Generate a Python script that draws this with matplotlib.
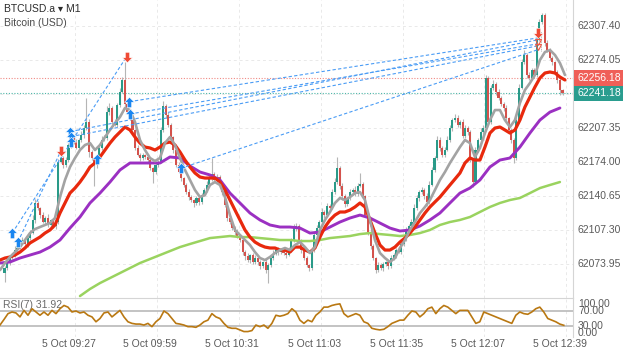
import numpy as np
import matplotlib
matplotlib.use("Agg")
import matplotlib.pyplot as plt
from matplotlib.path import Path

plt.rcParams['font.family'] = ['Liberation Sans', 'DejaVu Sans']

# M1 candles, 09:02 .. 12:40 (open = previous close)
first_open = 62066.0
closes = [
    62070.4, 62076.3, 62080.2, 62083.1, 62088.0, 62091.9, 62094.9, 62097.8, 62093.9, 62099.8,
    62104.7, 62117.4, 62134.0, 62129.1, 62122.2, 62115.4, 62119.3, 62112.5, 62117.4, 62111.5,
    62115.4, 62174.1, 62178.0, 62171.2, 62176.0, 62190.7, 62198.5, 62193.7, 62187.8, 62195.6,
    62200.5, 62207.3, 62213.2, 62183.9, 62178.0, 62171.2, 62176.0, 62187.8, 62195.6, 62197.6,
    62223.0, 62226.9, 62213.2, 62210.3, 62229.8, 62242.5, 62254.3, 62230.8, 62223.0, 62217.1,
    62205.4, 62187.8, 62180.9, 62178.0, 62180.9, 62179.0, 62176.0, 62168.2, 62164.3, 62171.2,
    62174.1, 62205.4, 62228.9, 62220.1, 62210.3, 62198.5, 62185.8, 62171.2, 62164.3, 62158.4,
    62151.6, 62144.8, 62139.9, 62136.9, 62134.0, 62138.9, 62135.0, 62141.8, 62146.7, 62151.6,
    62158.4, 62162.4, 62156.5, 62159.4, 62154.5, 62144.8, 62132.0, 62119.3, 62115.4, 62109.5,
    62105.6, 62101.7, 62097.8, 62086.1, 62082.2, 62078.3, 62083.1, 62076.3, 62080.2, 62076.3,
    62072.4, 62076.3, 62068.5, 62073.4, 62080.2, 62084.1, 62088.0, 62086.1, 62088.0, 62085.1,
    62083.1, 62088.0, 62097.8, 62109.5, 62111.5, 62097.8, 62088.0, 62080.2, 62073.4, 62070.4,
    62088.0, 62102.7, 62109.5, 62115.4, 62125.2, 62122.2, 62131.0, 62129.1, 62144.8, 62154.5,
    62168.2, 62150.6, 62140.9, 62133.0, 62138.9, 62144.8, 62146.7, 62142.8, 62150.6, 62152.6,
    62140.9, 62122.2, 62105.6, 62091.9, 62080.2, 62068.5, 62073.4, 62070.4, 62074.3, 62076.3,
    62072.4, 62080.2, 62083.1, 62088.0, 62086.1, 62093.9, 62099.8, 62107.6, 62111.5, 62115.4,
    62129.1, 62138.9, 62144.8, 62146.7, 62140.9, 62135.0, 62151.6, 62166.3, 62178.0, 62195.6,
    62187.8, 62180.9, 62185.8, 62195.6, 62207.3, 62215.2, 62217.1, 62210.3, 62213.2, 62199.5,
    62207.3, 62203.4, 62176.0, 62154.5, 62185.8, 62195.6, 62203.4, 62207.3, 62256.2, 62213.2,
    62246.5, 62250.4, 62242.5, 62236.7, 62230.8, 62226.9, 62217.1, 62205.4, 62195.6, 62178.0,
    62215.2, 62246.5, 62271.9, 62278.7, 62259.2, 62256.2, 62264.1, 62259.2, 62293.4, 62311.0,
    62317.9, 62290.5, 62283.6, 62275.8, 62271.9, 62262.1, 62254.3, 62244.5, 62241.18,
]
wick_up = [
    2, 3, 1, 2, 4, 2, 1, 3, 2, 2, 3, 5, 4, 2, 1, 3, 2, 4, 1, 2,
    2, 3, 4, 2, 3, 2, 5, 2, 3, 2, 4, 3, 23, 3, 2, 1, 3, 2, 4, 3,
    6, 5, 2, 3, 2, 4, 3, 18, 2, 3, 2, 1, 3, 2, 2, 1, 3, 2, 1, 2,
    2, 3, 5, 2, 3, 2, 1, 2, 3, 2, 1, 2, 3, 2, 1, 2, 3, 2, 2, 4,
    3, 16, 2, 3, 2, 1, 2, 3, 2, 1, 2, 3, 1, 2, 2, 3, 1, 2, 3, 2,
    2, 1, 3, 2, 2, 4, 2, 3, 1, 2, 2, 3, 2, 4, 3, 2, 1, 2, 2, 1,
    3, 2, 3, 2, 4, 2, 3, 2, 3, 4, 11, 2, 3, 2, 1, 3, 2, 4, 3, 11,
    2, 1, 2, 3, 2, 1, 3, 2, 2, 1, 2, 3, 2, 2, 3, 2, 1, 3, 2, 3,
    4, 3, 2, 3, 2, 3, 4, 3, 2, 4, 3, 2, 3, 4, 3, 2, 4, 3, 2, 3,
    3, 2, 2, 1, 3, 2, 4, 3, 3, 2, 3, 4, 2, 3, 2, 2, 3, 1, 2, 2,
    3, 4, 3, 5, 2, 3, 2, 2, 3, 3, 2, 2, 3, 2, 2, 1, 2, 3, 1,
]
wick_dn = [
    9, 2, 3, 1, 2, 2, 3, 1, 2, 3, 2, 1, 3, 2, 3, 1, 2, 2, 3, 2,
    3, 2, 1, 3, 2, 2, 3, 2, 1, 2, 2, 3, 2, 5, 2, 21, 3, 2, 2, 1,
    2, 3, 2, 1, 2, 2, 1, 3, 2, 2, 3, 2, 1, 3, 2, 2, 3, 2, 11, 2,
    2, 1, 2, 3, 2, 2, 3, 2, 1, 3, 2, 2, 3, 2, 4, 2, 3, 2, 1, 2,
    2, 3, 2, 1, 2, 3, 2, 3, 2, 2, 3, 2, 2, 3, 4, 2, 3, 2, 2, 3,
    3, 2, 3, 13, 2, 2, 1, 3, 2, 2, 3, 1, 2, 2, 3, 2, 3, 2, 2, 3,
    2, 2, 3, 1, 2, 3, 2, 2, 1, 2, 2, 3, 4, 3, 2, 2, 3, 2, 2, 1,
    2, 2, 3, 3, 2, 3, 2, 2, 3, 2, 3, 2, 2, 3, 1, 2, 2, 3, 2, 2,
    2, 2, 3, 2, 3, 4, 2, 1, 2, 2, 3, 2, 2, 1, 2, 3, 2, 2, 3, 2,
    2, 3, 2, 5, 2, 2, 3, 2, 2, 3, 2, 2, 3, 2, 2, 3, 2, 2, 3, 5,
    2, 2, 1, 2, 3, 2, 2, 3, 2, 1, 2, 3, 2, 2, 3, 2, 3, 5, 2,
]

# moving averages (evenly spaced samples)
ma_fast = [
    62068.4, 62075.3, 62081.2, 62086.0, 62090.9, 62097.8, 62104.6, 62108.5, 62110.5, 62112.5,
    62114.4, 62119.3, 62139.8, 62156.5, 62169.2, 62178.0, 62185.8, 62190.7, 62192.6, 62185.8,
    62190.7, 62198.5, 62205.4, 62212.2, 62218.1, 62226.9, 62224.9, 62213.2, 62195.6, 62185.8,
    62178.0, 62175.0, 62178.0, 62192.6, 62198.5, 62190.7, 62178.0, 62166.3, 62156.5, 62146.7,
    62139.8, 62141.8, 62151.6, 62154.5, 62151.6, 62139.8, 62122.2, 62107.6, 62102.7, 62097.8,
    62092.9, 62086.0, 62080.2, 62078.2, 62081.2, 62085.1, 62088.0, 62090.0, 62088.0, 62092.9,
    62095.8, 62090.9, 62085.1, 62090.9, 62107.6, 62117.4, 62125.2, 62134.0, 62138.9, 62136.9,
    62139.8, 62143.7, 62144.7, 62136.9, 62117.4, 62097.8, 62085.1, 62080.2, 62076.3, 62080.2,
    62090.0, 62097.8, 62107.6, 62115.4, 62124.2, 62130.1, 62136.9, 62146.7, 62156.5, 62164.3,
    62173.1, 62180.9, 62188.7, 62195.6, 62192.6, 62179.0, 62187.8, 62202.4, 62215.1, 62224.9,
    62224.9, 62215.1, 62208.3, 62215.1, 62231.8, 62244.5, 62251.3, 62259.2, 62273.8, 62281.6,
    62283.6, 62278.7, 62270.9, 62259.2,
]
ma_mid = [
    62078.2, 62080.2, 62081.2, 62083.1, 62086.0, 62090.0, 62094.9, 62097.8, 62100.7, 62104.6,
    62107.6, 62112.5, 62124.2, 62134.0, 62143.7, 62148.6, 62154.5, 62161.4, 62169.2, 62173.1,
    62179.0, 62185.8, 62192.6, 62198.5, 62203.4, 62208.3, 62205.4, 62198.5, 62192.6, 62188.7,
    62187.8, 62185.8, 62188.7, 62192.6, 62193.6, 62190.7, 62183.9, 62176.0, 62169.2, 62163.3,
    62159.4, 62158.4, 62158.4, 62158.4, 62154.5, 62146.7, 62136.9, 62127.1, 62117.4, 62107.6,
    62100.7, 62095.8, 62092.9, 62090.9, 62090.0, 62090.0, 62088.0, 62088.0, 62086.0, 62090.9,
    62090.9, 62088.0, 62086.0, 62090.0, 62100.7, 62110.5, 62117.4, 62122.2, 62125.2, 62125.2,
    62127.1, 62130.1, 62134.0, 62130.1, 62117.4, 62104.6, 62092.9, 62088.0, 62088.0, 62090.9,
    62095.8, 62099.7, 62104.6, 62110.5, 62117.4, 62124.2, 62130.1, 62135.0, 62139.8, 62145.7,
    62151.6, 62157.4, 62163.3, 62173.1, 62178.0, 62176.0, 62176.0, 62188.7, 62202.4, 62207.3,
    62208.3, 62205.4, 62202.4, 62205.4, 62215.1, 62227.9, 62237.6, 62247.4, 62256.2, 62261.1,
    62262.1, 62261.1, 62257.2, 62254.3,
]
ma_slow = [
    62075.3, 62076.3, 62080.2, 62083.1, 62086.0, 62090.9, 62097.8, 62109.5, 62120.3, 62134.0,
    62143.7, 62154.5, 62166.3, 62173.1, 62173.1, 62173.1, 62173.1, 62179.0, 62178.0, 62170.2,
    62164.3, 62161.4, 62156.5, 62143.7, 62134.0, 62124.2, 62117.4, 62112.5, 62110.5, 62110.5,
    62109.5, 62104.6, 62105.6, 62110.5, 62115.4, 62119.3, 62122.2, 62119.3, 62114.4, 62109.5,
    62106.6, 62107.6, 62111.5, 62117.4, 62124.2, 62134.0, 62143.7, 62148.6, 62156.5, 62169.2,
    62176.0, 62178.0, 62188.7, 62202.4, 62215.1, 62222.9, 62226.9,
]
ma_long = [
    62043.0, 62049.9, 62055.7, 62060.6, 62065.5, 62070.4, 62075.3, 62079.2, 62083.1, 62087.0,
    62090.9, 62093.9, 62096.8, 62099.7, 62100.7, 62101.7, 62100.7, 62100.7, 62099.7, 62098.8,
    62097.8, 62097.8, 62096.8, 62096.8, 62097.8, 62099.7, 62100.7, 62101.7, 62103.6, 62104.6,
    62103.6, 62102.7, 62101.7, 62102.7, 62104.6, 62107.6, 62112.5, 62115.4, 62117.4, 62120.3,
    62125.2, 62130.1, 62134.0, 62136.9, 62138.9, 62143.7, 62148.6, 62151.6, 62154.5,
]

rsi_vals = [
    32.6, 47.4, 63.0, 67.4, 64.8, 54.3, 71.7, 58.7, 76.1, 67.4,
    58.7, 67.4, 58.7, 71.7, 63.0, 76.1, 84.8, 80.4, 67.4, 70.0,
    64.8, 67.4, 58.7, 54.3, 41.3, 50.0, 64.8, 67.4, 54.3, 63.0,
    71.7, 54.3, 41.3, 37.0, 35.2, 35.2, 32.6, 37.0, 28.3, 41.3,
    50.0, 70.0, 63.0, 50.0, 37.0, 35.2, 32.6, 28.3, 28.3, 26.5,
    32.6, 41.3, 45.7, 63.0, 54.3, 50.0, 37.0, 26.5, 23.9, 23.9,
    19.6, 15.2, 15.2, 17.8, 32.6, 28.3, 32.6, 23.9, 37.0, 58.7,
    56.1, 58.7, 63.0, 76.1, 67.4, 45.7, 37.0, 45.7, 41.3, 58.7,
    67.4, 80.4, 80.4, 84.8, 87.4, 89.1, 63.0, 54.3, 58.7, 63.0,
    58.7, 41.3, 37.0, 23.9, 21.3, 19.6, 21.3, 28.3, 37.0, 41.3,
    45.7, 45.7, 58.7, 70.0, 67.4, 54.3, 63.0, 76.1, 80.4, 63.0,
    76.1, 84.8, 80.4, 71.7, 63.0, 71.7, 71.7, 71.7, 54.3, 37.0,
    41.3, 67.4, 63.0, 58.7, 54.3, 50.0, 45.7, 41.3, 37.0, 58.7,
    67.4, 63.0, 61.3, 67.4, 76.1, 80.4, 67.4, 50.0, 45.7, 41.3,
    35.2, 31.92,
]

time_labels = ['5 Oct 09:27', '5 Oct 09:59', '5 Oct 10:31', '5 Oct 11:03',
               '5 Oct 11:35', '5 Oct 12:07', '5 Oct 12:39']
time_idx = [25, 57, 89, 121, 153, 185, 217]   # minutes after 09:02
price_ticks = [62307.40, 62274.05, 62240.70, 62207.35, 62174.00, 62140.65, 62107.30, 62073.95]
ask_price = 62256.18
bid_price = 62241.18
rsi_levels = [100.0, 70.0, 30.0, 0.0]

# trade markers
buy_t = [3.0, 5.2, 25.6, 25.9, 25.9, 36.0, 48.8, 49.0, 68.8]
buy_p = [62104.6, 62095.8, 62203.8, 62198.9, 62193.3, 62176.6, 62233.1, 62221.0, 62167.9]
sell_t = [22.0, 47.7, 208.6]
sell_p = [62184.8, 62277.1, 62300.2]
close_t = [208.3, 208.3]
close_p = [62291.4, 62287.0]
# links between trades: (t0, p0, t1, p1)
links = [
    (3.0, 62104.6, 47.7, 62277.1),
    (5.2, 62095.8, 22.0, 62184.8),
    (25.6, 62203.8, 208.0, 62293.4),
    (25.9, 62198.9, 208.0, 62287.5),
    (48.8, 62233.1, 208.0, 62295.3),
    (49.0, 62221.0, 208.0, 62289.5),
    (68.8, 62167.9, 208.0, 62283.6),
]

W, H = 625, 352


def fx(px):
    return px / W


def fy(py):
    return 1 - py / H


def price_to_px(p):
    return (62332.5 - p) / 0.978


fig = plt.figure(figsize=(6.25, 3.52), dpi=100)
fig.patch.set_facecolor('white')
ax = fig.add_axes([0, fy(298), fx(573), 298 / H])
ax_rsi = fig.add_axes([0, fy(337), fx(573), 39 / H])

x_lim = (-1.76, 222.1)
n = len(closes)
if len(wick_up) != n or len(wick_dn) != n:
    raise ValueError('length mismatch %d %d %d' % (n, len(wick_up), len(wick_dn)))

idx = np.arange(n)
closes_a = np.array(closes)
opens_a = np.array([first_open] + closes[:-1])
highs = np.maximum(opens_a, closes_a) + np.array(wick_up)
lows = np.minimum(opens_a, closes_a) - np.array(wick_dn)
up = closes_a >= opens_a

grid_kw = dict(color='#e9e9e9', lw=0.7, ls=(0, (3, 3)), zorder=0)
for p in price_ticks:
    ax.axhline(p, **grid_kw)
for t in time_idx:
    ax.axvline(t + 2.5, **grid_kw)
    ax_rsi.axvline(t + 2.5, **grid_kw)

# bid / ask lines
ax.axhline(ask_price, color='#f08a85', lw=0.8, ls=(0, (1, 1.5)), zorder=1)
ax.axhline(bid_price, color='#4db6a8', lw=0.8, ls=(0, (1, 1.5)), zorder=1)

# candles
ax.vlines(idx, lows, highs, color='#b5b5b5', lw=0.8, zorder=2)
body_bottom = np.minimum(opens_a, closes_a)
body_h = np.maximum(np.abs(closes_a - opens_a), 0.6)
ax.bar(idx[up], body_h[up], bottom=body_bottom[up], width=0.8,
       color='#2a9a88', linewidth=0, zorder=3)
ax.bar(idx[~up], body_h[~up], bottom=body_bottom[~up], width=0.8,
       color='#d4524c', linewidth=0, zorder=3)

# moving averages
t_fast = np.linspace(-1.76, 218.95, len(ma_fast))
t_slow = np.linspace(-1.76, 216.99, len(ma_slow))
t_long = np.linspace(29.49, 216.99, len(ma_long))
ax.plot(t_long, ma_long, color='#9ad35f', lw=1.8, zorder=4, solid_capstyle='round')
ax.plot(t_slow, ma_slow, color='#9b30c2', lw=2.1, zorder=4, solid_capstyle='round')
ax.plot(t_fast, ma_mid, color='#e8290d', lw=2.3, zorder=5, solid_capstyle='round')
ax.plot(t_fast, ma_fast, color='#a3a3a3', lw=1.9, zorder=5, solid_capstyle='round')

# trade links
for t0, p0, t1, p1 in links:
    ax.plot([t0, t1], [p0, p1], color='#4a9cf5', lw=0.8, ls=(0, (3, 2)), zorder=6)
ax.plot([209.5, 209.5], [62283.0, 62302.0], color='#9a9a9a', lw=0.6, ls=(0, (1, 1)), zorder=6)

up_arrow = Path([(0, 1), (-0.95, 0.05), (-0.42, 0.05), (-0.42, -1), (0.42, -1),
                 (0.42, 0.05), (0.95, 0.05), (0, 1), (0, 1)],
                [Path.MOVETO] + [Path.LINETO] * 7 + [Path.CLOSEPOLY])
down_arrow = Path([(x, -y) for x, y in up_arrow.vertices], up_arrow.codes)
ax.plot(buy_t, buy_p, ls='none', marker=up_arrow, ms=7.5, color='#1a86f0',
        mec='white', mew=0.4, zorder=7)
ax.plot(sell_t, sell_p, ls='none', marker=down_arrow, ms=7.5, color='#ef4a35',
        mec='white', mew=0.4, zorder=7)
ax.plot(close_t, close_p, ls='none', marker='v', ms=5, mfc='none', mec='#ef5a45',
        mew=0.8, zorder=7)

ax.set_xlim(*x_lim)
ax.set_ylim(62041.1, 62332.5)
ax.set_xticks([])
ax.set_yticks([])
for s in ['left', 'top', 'bottom']:
    ax.spines[s].set_visible(False)
ax.spines['right'].set_color('#d5d5d5')
ax.spines['right'].set_linewidth(0.8)

# price labels
for p in price_ticks:
    if abs(p - bid_price) < 5:
        continue
    fig.text(fx(578), fy(price_to_px(p)), '%.2f' % p, color='#5a5a5a',
             fontsize=7.5, va='center', ha='left')
fig.text(fx(577), fy(price_to_px(ask_price)), '%.2f' % ask_price, color='white',
         fontsize=7.5, va='center', ha='left',
         bbox=dict(boxstyle='square,pad=0.25', fc='#ef5f58', ec='none'))
fig.text(fx(577), fy(price_to_px(bid_price)), '%.2f' % bid_price, color='white',
         fontsize=7.5, va='center', ha='left',
         bbox=dict(boxstyle='square,pad=0.25', fc='#2a9d8f', ec='none'))

# title
fig.text(fx(4), fy(9), 'BTCUSD.a \u25be M1', color='#2b2b2b', fontsize=7.5,
         va='center', ha='left', family=['Liberation Sans', 'DejaVu Sans'])
fig.text(fx(4), fy(23), 'Bitcoin (USD)', color='#4a4a4a', fontsize=7.5,
         va='center', ha='left')

# RSI panel
t_rsi = np.linspace(-1.76, 218.5, len(rsi_vals))
ax_rsi.axhline(70, color='#b9b9b9', lw=1.2, zorder=1)
ax_rsi.axhline(30, color='#b9b9b9', lw=1.2, zorder=1)
ax_rsi.plot(t_rsi, rsi_vals, color='#b97812', lw=1.2, zorder=3)
ax_rsi.set_xlim(*x_lim)
ax_rsi.set_ylim(0.7, 104.7)
ax_rsi.set_xticks([])
ax_rsi.set_yticks([])
for s in ['left', 'bottom']:
    ax_rsi.spines[s].set_visible(False)
for s in ['top', 'right']:
    ax_rsi.spines[s].set_color('#d5d5d5')
    ax_rsi.spines[s].set_linewidth(0.8)
ax_rsi.text(0.005, 0.82, 'RSI(7) %.2f' % rsi_vals[-1], transform=ax_rsi.transAxes,
            color='#6a6a6a', fontsize=7.5, va='center', ha='left', zorder=2)
for lev, ypx in zip(rsi_levels, [304, 311, 326, 333]):
    fig.text(fx(578), fy(ypx), '%.2f' % lev, color='#5a5a5a', fontsize=7.5,
             va='center', ha='left')

# time labels
for t, lab in zip(time_idx, time_labels):
    fig.text(fx(4.5 + 2.56 * t), fy(344), lab, color='#5a5a5a', fontsize=7.5,
             va='center', ha='center')

fig.savefig('out.png', dpi=100, facecolor='white')
